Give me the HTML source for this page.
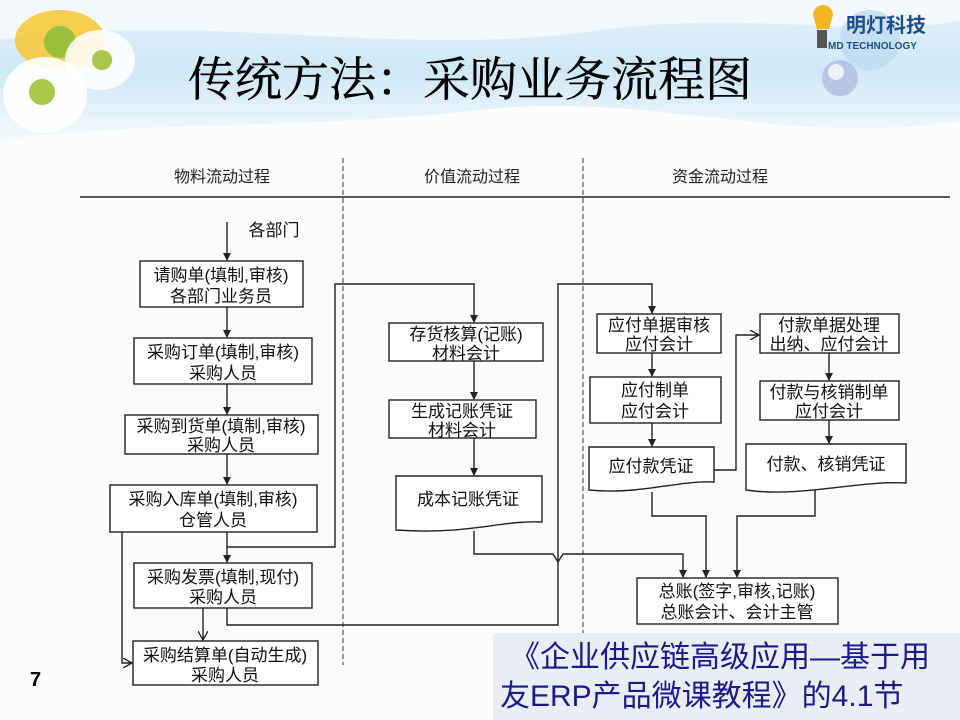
<!DOCTYPE html>
<html><head><meta charset="utf-8">
<style>
html,body{margin:0;padding:0;background:#fff;}
svg{display:block;}
text{font-family:"Liberation Sans","Noto Sans CJK SC",sans-serif;}
</style></head><body>
<svg width="960" height="720" viewBox="0 0 960 720" xmlns="http://www.w3.org/2000/svg">
<defs>
<linearGradient id="sky" x1="0" y1="0" x2="0" y2="1">
<stop offset="0" stop-color="#e6f3fb"/><stop offset="0.5" stop-color="#cfe8f7"/><stop offset="1" stop-color="#f4f9fd"/>
</linearGradient>
<marker id="ar" markerWidth="8" markerHeight="8" refX="7" refY="4" orient="auto" markerUnits="userSpaceOnUse">
<path d="M0,0 L8,4 L0,8 z" fill="#222"/></marker>
<marker id="oa" markerWidth="10" markerHeight="10" refX="9" refY="5" orient="auto" markerUnits="userSpaceOnUse">
<path d="M0,0 L9,5 L0,10" fill="none" stroke="#222" stroke-width="1.3"/></marker>
</defs>
<rect width="960" height="720" fill="#fbfcfd"/>
<path d="M0,0 H960 V120 C800,150 650,90 480,110 C300,130 150,120 0,140 Z" fill="url(#sky)"/>
<path d="M0,40 C200,10 400,60 600,30 C750,10 880,40 960,20 V0 H0Z" fill="#f2f8fc"/>
<g>
<ellipse cx="60" cy="40" rx="45" ry="30" fill="#f7c533" opacity="0.85"/>
<circle cx="60" cy="42" r="16" fill="#9bbf3c"/>
<ellipse cx="45" cy="95" rx="42" ry="38" fill="#ffffff" opacity="0.9"/>
<circle cx="42" cy="92" r="13" fill="#a9c84a"/>
<ellipse cx="100" cy="60" rx="35" ry="30" fill="#ffffff" opacity="0.85"/>
<circle cx="102" cy="60" r="10" fill="#a9c84a"/>
</g>
<circle cx="870" cy="40" r="30" fill="#bcd9f0" opacity="0.7"/>
<circle cx="840" cy="78" r="18" fill="#b6c7e6"/>
<circle cx="836" cy="72" r="8" fill="#eef3fb"/>
<path d="M813,15 a10,10 0 1 1 20,0 l-4,14 h-12z" fill="#f2b51f"/>
<rect x="817" y="30" width="10" height="18" fill="#555"/>
<text x="846" y="32" font-size="20" font-weight="bold" fill="#1f4e8c">明灯科技</text>
<text x="828" y="49" font-size="10" font-weight="bold" fill="#1f4e8c">MD TECHNOLOGY</text>
<text x="470" y="96" font-size="47" text-anchor="middle" fill="#000" stroke="#000" stroke-width="0.4" style="font-family:'Liberation Serif','Noto Serif CJK SC',serif">传统方法：采购业务流程图</text>
<g font-size="16" fill="#222" text-anchor="middle">
<text x="222" y="182">物料流动过程</text>
<text x="472" y="182">价值流动过程</text>
<text x="720" y="182">资金流动过程</text>
</g>
<line x1="80" y1="197" x2="950" y2="197" stroke="#222" stroke-width="1.5"/>
<line x1="343" y1="158" x2="343" y2="665" stroke="#333" stroke-dasharray="5,3"/>
<line x1="583" y1="158" x2="583" y2="640" stroke="#333" stroke-dasharray="5,3"/>
<g fill="#fff" stroke="#222" stroke-width="1.4">
<rect x="140" y="261" width="163" height="46"/>
<rect x="134" y="338" width="178" height="46"/>
<rect x="125" y="415" width="193" height="39"/>
<rect x="110" y="485" width="207" height="47"/>
<rect x="134" y="563" width="178" height="45"/>
<rect x="133" y="641" width="185" height="44"/>
<rect x="389" y="323" width="154" height="38"/>
<rect x="389" y="400" width="147" height="38"/>
<path d="M396,476 H542 V522 C500,520 470,535 396,530 Z"/>
<rect x="597" y="314" width="124" height="39"/>
<rect x="590" y="377" width="131" height="46"/>
<path d="M589,447 H714 V482 C680,480 640,495 589,490 Z"/>
<rect x="760" y="314" width="139" height="39"/>
<rect x="760" y="381" width="139" height="39"/>
<path d="M746,444 H906 V483 C860,480 800,498 746,490 Z"/>
<rect x="637" y="578" width="201" height="46"/>
</g>
<g font-size="17" fill="#111" text-anchor="middle">
<text x="274" y="236">各部门</text>
<text x="221" y="281">请购单(填制,审核)</text><text x="221" y="302">各部门业务员</text>
<text x="223" y="358">采购订单(填制,审核)</text><text x="223" y="379">采购人员</text>
<text x="221" y="432">采购到货单(填制,审核)</text><text x="221" y="451">采购人员</text>
<text x="213" y="505">采购入库单(填制,审核)</text><text x="213" y="526">仓管人员</text>
<text x="223" y="583">采购发票(填制,现付)</text><text x="223" y="603">采购人员</text>
<text x="225" y="661">采购结算单(自动生成)</text><text x="225" y="681">采购人员</text>
<text x="466" y="340">存货核算(记账)</text><text x="466" y="359">材料会计</text>
<text x="462" y="417">生成记账凭证</text><text x="462" y="436">材料会计</text>
<text x="468" y="505">成本记账凭证</text>
<text x="659" y="331">应付单据审核</text><text x="659" y="350">应付会计</text>
<text x="655" y="396">应付制单</text><text x="655" y="417">应付会计</text>
<text x="651" y="472">应付款凭证</text>
<text x="829" y="331">付款单据处理</text><text x="829" y="350">出纳、应付会计</text>
<text x="829" y="398">付款与核销制单</text><text x="829" y="417">应付会计</text>
<text x="826" y="470">付款、核销凭证</text>
<text x="737" y="597">总账(签字,审核,记账)</text><text x="737" y="618">总账会计、会计主管</text>
</g>
<g fill="none" stroke="#222" stroke-width="1.4">
<line x1="227" y1="222" x2="227" y2="260" marker-end="url(#ar)"/>
<line x1="227" y1="307" x2="227" y2="337" marker-end="url(#ar)"/>
<line x1="227" y1="384" x2="227" y2="414" marker-end="url(#ar)"/>
<line x1="227" y1="454" x2="227" y2="484" marker-end="url(#ar)"/>
<line x1="227" y1="532" x2="227" y2="562" marker-end="url(#ar)"/>
<polyline points="227,547 335,547 335,284 474,284 474,322" marker-end="url(#ar)"/>
<line x1="474" y1="361" x2="474" y2="399" marker-end="url(#ar)"/>
<line x1="474" y1="438" x2="474" y2="475" marker-end="url(#ar)"/>
<line x1="203" y1="608" x2="203" y2="640" marker-end="url(#oa)"/>
<polyline points="122,532 122,663 132,663" marker-end="url(#oa)"/>
<polyline points="227,608 227,625 558,625 558,284 652,284 652,313" marker-end="url(#ar)"/>
<polyline points="474,531 474,554 553,554 558,562 563,554 683,554 683,577" marker-end="url(#ar)"/>
<line x1="652" y1="353" x2="652" y2="376" marker-end="url(#ar)"/>
<line x1="652" y1="423" x2="652" y2="446" marker-end="url(#ar)"/>
<polyline points="714,470 736,470 736,335 759,335" marker-end="url(#oa)"/>
<line x1="829" y1="353" x2="829" y2="380" marker-end="url(#ar)"/>
<line x1="829" y1="420" x2="829" y2="443" marker-end="url(#ar)"/>
<polyline points="652,492 652,516 706,516 706,577" marker-end="url(#ar)"/>
<polyline points="815,490 815,516 737,516 737,577" marker-end="url(#ar)"/>
</g>
<rect x="493" y="633" width="467" height="87" fill="#e9eef5"/>
<g font-size="30" fill="#1a1a8a">
<text x="510" y="667">《企业供应链高级应用—基于用</text>
<text x="500" y="706">友ERP产品微课教程》的4.1节</text>
</g>
<text x="30" y="686" font-size="20" font-weight="bold" fill="#000">7</text>
</svg>
</body></html>
